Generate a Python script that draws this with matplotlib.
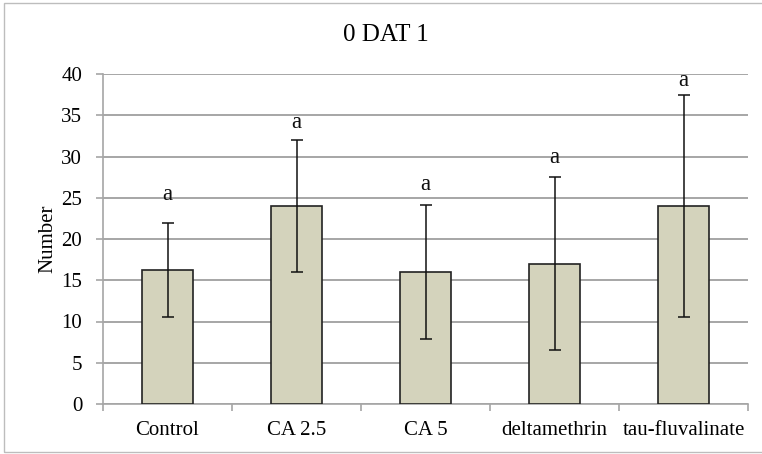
import numpy as np
import matplotlib.pyplot as plt
from matplotlib.patches import Rectangle

# donnees
categories = ["Control", "CA 2.5", "CA 5", "deltamethrin", "tau-fluvalinate"]
means = [16.25, 24.0, 16.0, 17.0, 24.0]
err_low = [10.6, 16.0, 7.9, 6.5, 10.55]
err_high = [21.9, 32.0, 24.1, 27.55, 37.5]
letters = ["a", "a", "a", "a", "a"]
letter_y = [24.7, 33.5, 26.0, 29.2, 38.5]   # ligne de base des lettres
yticks = [0, 5, 10, 15, 20, 25, 30, 35, 40]

plt.rcParams['font.family'] = ['Liberation Serif', 'DejaVu Serif']

fig = plt.figure(figsize=(7.62, 4.54), dpi=100)
ax = fig.add_axes([103/762, 1-404/454, (748-103)/762, (404-74)/454])

x = np.arange(len(categories))
m = np.array(means)
lo = m - np.array(err_low)
hi = np.array(err_high) - m

ax.bar(x, m, width=0.4, color='#d4d3bc', edgecolor='#222222', linewidth=1.2, zorder=3)
ax.errorbar(x, m, yerr=[lo, hi], fmt='none', ecolor='#111111', elinewidth=1.1,
            capsize=4, capthick=1.1, zorder=4)
for xi, lab, ly in zip(x, letters, letter_y):
    ax.text(xi, ly, lab, ha='center', va='baseline', fontsize=16.5, color='#111111')

ax.set_xlim(-0.5, len(categories) - 0.5)
ax.set_ylim(0, 40)
ax.set_yticks(yticks)
ax.yaxis.grid(True, color='#a6a6a6', linewidth=1.4, zorder=0)
ax.set_axisbelow(True)

ax.set_xticks(x)
ax.set_xticklabels(categories, fontsize=15)
ax.set_xticks(np.arange(-0.5, len(categories)), minor=True)
ax.tick_params(axis='x', which='major', length=0, pad=12)
ax.tick_params(axis='x', which='minor', length=5, color='#a6a6a6', width=1.2)
ax.tick_params(axis='y', length=5, color='#a6a6a6', width=1.2, labelsize=15, pad=10)

for s in ['top', 'right']:
    ax.spines[s].set_visible(False)
for s in ['left', 'bottom']:
    ax.spines[s].set_color('#a6a6a6')
    ax.spines[s].set_linewidth(1.2)

ax.set_ylabel("Number", fontsize=15, labelpad=3)
fig.text(0.5 + 5/762, 1 - 41/454, "0 DAT 1", ha='center', va='baseline', fontsize=18)

# cadre gris autour du graphique
fig.patches.append(Rectangle((4/762, 2/454), 1.0, 1 - 5/454,
                             transform=fig.transFigure, fill=False,
                             edgecolor='#bdbdbd', linewidth=1.0))

fig.savefig("out.png", dpi=100)
